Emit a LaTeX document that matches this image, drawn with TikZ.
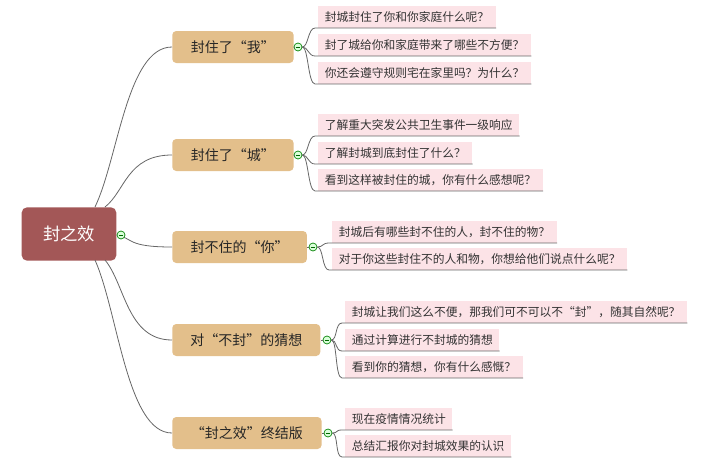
\documentclass[tikz,border=0pt]{standalone}
\usepackage{fontspec}
\usetikzlibrary{calc}
\newfontfamily\cjk{Noto Sans CJK SC}
\begin{document}
\begin{tikzpicture}[x=0.75pt,y=-0.75pt,font=\cjk,
 root/.style={fill=rootc,rounded corners=4pt,text=white,font=\cjk\fontsize{13}{13}\selectfont,minimum width=71pt,minimum height=40pt,inner sep=0pt},
 br/.style={fill=brc,rounded corners=3pt,text=black!85,font=\cjk\fontsize{10.5}{10.5}\selectfont,minimum height=24pt,inner sep=0pt,anchor=west},
 leaf/.style={fill=leafc,font=\cjk\fontsize{8.8}{8.8}\selectfont,text=black!80,minimum height=16pt,inner xsep=5pt,inner ysep=0pt,anchor=south west},
 ln/.style={draw=black!60,line width=0.6pt},
 tog/.style={circle,draw=green!50!black,fill=green!15,minimum size=6pt,inner sep=0pt,line width=0.5pt,
   path picture={\draw[green!40!black,line width=0.5pt] ([xshift=-1.6pt]path picture bounding box.center) -- ([xshift=1.6pt]path picture bounding box.center);}}]
\definecolor{rootc}{HTML}{A35757}
\definecolor{brc}{HTML}{E3BF8B}
\definecolor{leafc}{HTML}{FCE3E7}
\useasboundingbox (0,0) rectangle (717,464);
\node[root] (r) at (69,234) {封之效};
\node[br,minimum width=91pt] (b1) at (172,47) {封住了“我”};
\node[br,minimum width=91pt] (b2) at (172,155) {封住了“城”};
\node[br,minimum width=101pt] (b3) at (172,247) {封不住的“你”};
\node[br,minimum width=111pt] (b4) at (172,340) {对“不封”的猜想};
\node[br,minimum width=112pt] (b5) at (172,433) {“封之效”终结版};
\node[tog] (b1t) at (298,47) {}; \node[tog] (b2t) at (298,155) {};
\node[tog] (b3t) at (313,247) {}; \node[tog] (b4t) at (327,340) {};
\node[tog] (b5t) at (328,433) {};
\foreach \b in {b1,b2,b3,b4,b5}{\draw[ln] (\b t.west) -- (\b.east);}
\foreach \x/\y/\n/\t in {318/28/l11/{封城封住了你和你家庭什么呢？},318/56/l12/{封了城给你和家庭带来了哪些不方便？},318/84/l13/{你还会遵守规则宅在家里吗？为什么？},
318/136/l21/{了解重大突发公共卫生事件一级响应},318/164/l22/{了解封城到底封住了什么？},318/191/l23/{看到这样被封住的城，你有什么感想呢？},
332/243/l31/{封城后有哪些封不住的人，封不住的物？},332/270/l32/{对于你这些封住不的人和物，你想给他们说点什么呢？},
345/323/l41/{封城让我们这么不便，那我们可不可以不“封”，随其自然呢？},345/351/l42/{通过计算进行不封城的猜想},345/378/l43/{看到你的猜想，你有什么感慨？},
345/430/l51/{现在疫情情况统计},345/457/l52/{总结汇报你对封城效果的认识}}{
 \node[leaf] (\n) at (\x,\y) {\t};}
\foreach \b/\l in {b1/l11,b1/l12,b1/l13,b2/l21,b2/l22,b2/l23,b3/l31,b3/l32,b4/l41,b4/l42,b4/l43,b5/l51,b5/l52}{
 \draw[ln] (\b t.east) .. controls ($(\b t.east)+(6,0)$) and ($(\l.south west)+(-10,0)$) .. ($(\l.south west)+(-3,0)$) -- (\l.south east);}
\foreach \b/\sx/\sy in {b1/95/207,b2/105/207,b3/117/235,b4/105/260,b5/95/260}{
 \coordinate (s\b) at (\sx,\sy);
 \draw[ln] (s\b) .. controls ($(s\b)!0.3!(\b.west)$) and ($(\b.west)+(-45,0)$) .. (\b.west);}
\node[tog] (rt) at (121,235) {};
\end{tikzpicture}
\end{document}
